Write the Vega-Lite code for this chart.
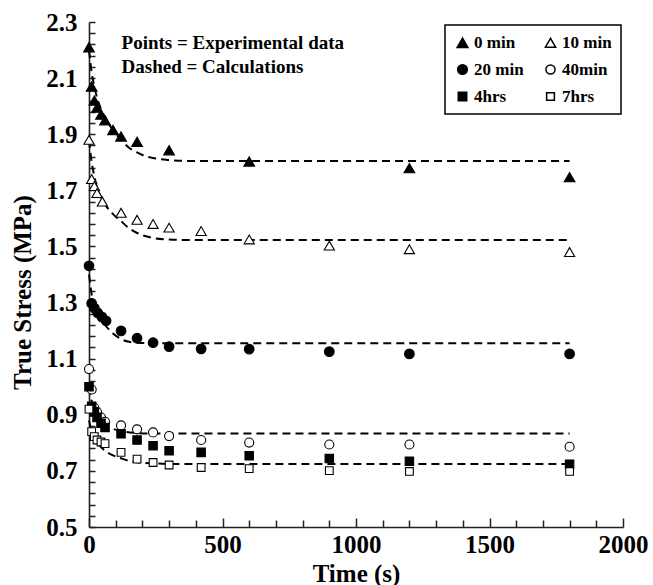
{
  "$schema": "https://vega.github.io/schema/vega-lite/v6.json",
  "width": 534,
  "height": 505,
  "autosize": {"type": "none"},
  "padding": {"left": 89, "top": 22, "right": 30, "bottom": 58},
  "background": "white",
  "config": {
    "view": {"stroke": null},
    "axis": {
      "domainColor": "#222222", "domainWidth": 1.6,
      "ticks": true, "tickColor": "#222222", "tickWidth": 1.5,
      "labelFont": "Liberation Serif", "labelFontWeight": "bold", "labelFontSize": 25, "labelColor": "black", "labelOverlap": false,
      "titleFont": "Liberation Serif", "titleFontWeight": "bold", "titleFontSize": 25, "titleColor": "black",
      "grid": false
    },
    "legend": {
      "orient": "none", "legendX": 356, "legendY": 3, "columns": 2, "direction": "horizontal",
      "strokeColor": "black", "strokeWidth": 1.5, "padding": 9,
      "labelFont": "Liberation Serif", "labelFontWeight": "bold", "labelFontSize": 17, "labelColor": "black",
      "rowPadding": 9, "columnPadding": 18, "labelOffset": 3
    }
  },
  "datasets": {
    "exp": [
      {"series": "0 min", "t": 0, "stress": 2.21},
      {"series": "0 min", "t": 10, "stress": 2.07},
      {"series": "0 min", "t": 20, "stress": 2.02},
      {"series": "0 min", "t": 30, "stress": 1.995},
      {"series": "0 min", "t": 45, "stress": 1.97},
      {"series": "0 min", "t": 60, "stress": 1.95},
      {"series": "0 min", "t": 90, "stress": 1.915},
      {"series": "0 min", "t": 120, "stress": 1.892},
      {"series": "0 min", "t": 180, "stress": 1.873},
      {"series": "0 min", "t": 300, "stress": 1.843},
      {"series": "0 min", "t": 600, "stress": 1.803},
      {"series": "0 min", "t": 1200, "stress": 1.779},
      {"series": "0 min", "t": 1800, "stress": 1.747},
      {"series": "10 min", "t": 0, "stress": 1.88},
      {"series": "10 min", "t": 10, "stress": 1.74},
      {"series": "10 min", "t": 20, "stress": 1.715},
      {"series": "10 min", "t": 30, "stress": 1.69},
      {"series": "10 min", "t": 50, "stress": 1.66},
      {"series": "10 min", "t": 120, "stress": 1.62},
      {"series": "10 min", "t": 180, "stress": 1.595},
      {"series": "10 min", "t": 240, "stress": 1.58},
      {"series": "10 min", "t": 300, "stress": 1.567},
      {"series": "10 min", "t": 420, "stress": 1.555},
      {"series": "10 min", "t": 600, "stress": 1.525},
      {"series": "10 min", "t": 900, "stress": 1.503},
      {"series": "10 min", "t": 1200, "stress": 1.49},
      {"series": "10 min", "t": 1800, "stress": 1.48},
      {"series": "20 min", "t": 0, "stress": 1.431},
      {"series": "20 min", "t": 10, "stress": 1.297},
      {"series": "20 min", "t": 20, "stress": 1.28},
      {"series": "20 min", "t": 33, "stress": 1.263},
      {"series": "20 min", "t": 48, "stress": 1.249},
      {"series": "20 min", "t": 64, "stress": 1.235},
      {"series": "20 min", "t": 120, "stress": 1.199},
      {"series": "20 min", "t": 180, "stress": 1.173},
      {"series": "20 min", "t": 240, "stress": 1.157},
      {"series": "20 min", "t": 300, "stress": 1.143},
      {"series": "20 min", "t": 420, "stress": 1.135},
      {"series": "20 min", "t": 600, "stress": 1.134},
      {"series": "20 min", "t": 900, "stress": 1.125},
      {"series": "20 min", "t": 1200, "stress": 1.117},
      {"series": "20 min", "t": 1800, "stress": 1.117},
      {"series": "40min", "t": 0, "stress": 1.063},
      {"series": "40min", "t": 10, "stress": 0.99},
      {"series": "40min", "t": 20, "stress": 0.925},
      {"series": "40min", "t": 30, "stress": 0.91},
      {"series": "40min", "t": 45, "stress": 0.89},
      {"series": "40min", "t": 60, "stress": 0.875},
      {"series": "40min", "t": 120, "stress": 0.862},
      {"series": "40min", "t": 180, "stress": 0.848},
      {"series": "40min", "t": 240, "stress": 0.837},
      {"series": "40min", "t": 300, "stress": 0.824},
      {"series": "40min", "t": 420, "stress": 0.81},
      {"series": "40min", "t": 600, "stress": 0.801},
      {"series": "40min", "t": 900, "stress": 0.794},
      {"series": "40min", "t": 1200, "stress": 0.794},
      {"series": "40min", "t": 1800, "stress": 0.786},
      {"series": "4hrs", "t": 0, "stress": 1.0},
      {"series": "4hrs", "t": 10, "stress": 0.93},
      {"series": "4hrs", "t": 20, "stress": 0.91},
      {"series": "4hrs", "t": 30, "stress": 0.89},
      {"series": "4hrs", "t": 45, "stress": 0.87},
      {"series": "4hrs", "t": 60, "stress": 0.855},
      {"series": "4hrs", "t": 120, "stress": 0.832},
      {"series": "4hrs", "t": 180, "stress": 0.81},
      {"series": "4hrs", "t": 240, "stress": 0.79},
      {"series": "4hrs", "t": 300, "stress": 0.772},
      {"series": "4hrs", "t": 420, "stress": 0.766},
      {"series": "4hrs", "t": 600, "stress": 0.754},
      {"series": "4hrs", "t": 900, "stress": 0.744},
      {"series": "4hrs", "t": 1200, "stress": 0.734},
      {"series": "4hrs", "t": 1800, "stress": 0.724},
      {"series": "7hrs", "t": 0, "stress": 0.92},
      {"series": "7hrs", "t": 10, "stress": 0.84},
      {"series": "7hrs", "t": 20, "stress": 0.822},
      {"series": "7hrs", "t": 30, "stress": 0.81},
      {"series": "7hrs", "t": 45, "stress": 0.803},
      {"series": "7hrs", "t": 60, "stress": 0.797},
      {"series": "7hrs", "t": 120, "stress": 0.766},
      {"series": "7hrs", "t": 180, "stress": 0.742},
      {"series": "7hrs", "t": 240, "stress": 0.73},
      {"series": "7hrs", "t": 300, "stress": 0.721},
      {"series": "7hrs", "t": 420, "stress": 0.712},
      {"series": "7hrs", "t": 600, "stress": 0.708},
      {"series": "7hrs", "t": 900, "stress": 0.701},
      {"series": "7hrs", "t": 1200, "stress": 0.698},
      {"series": "7hrs", "t": 1800, "stress": 0.698}
    ],
    "calc": [
      {"curve": "0 min", "t": 0, "stress": 2.2},
      {"curve": "0 min", "t": 10, "stress": 2.12},
      {"curve": "0 min", "t": 20, "stress": 2.07},
      {"curve": "0 min", "t": 30, "stress": 2.03},
      {"curve": "0 min", "t": 45, "stress": 1.99},
      {"curve": "0 min", "t": 60, "stress": 1.96},
      {"curve": "0 min", "t": 90, "stress": 1.915},
      {"curve": "0 min", "t": 120, "stress": 1.88},
      {"curve": "0 min", "t": 150, "stress": 1.852},
      {"curve": "0 min", "t": 180, "stress": 1.835},
      {"curve": "0 min", "t": 210, "stress": 1.822},
      {"curve": "0 min", "t": 240, "stress": 1.815},
      {"curve": "0 min", "t": 300, "stress": 1.808},
      {"curve": "0 min", "t": 360, "stress": 1.805},
      {"curve": "0 min", "t": 1800, "stress": 1.805},
      {"curve": "10 min", "t": 0, "stress": 1.88},
      {"curve": "10 min", "t": 10, "stress": 1.8},
      {"curve": "10 min", "t": 20, "stress": 1.75},
      {"curve": "10 min", "t": 30, "stress": 1.71},
      {"curve": "10 min", "t": 45, "stress": 1.675},
      {"curve": "10 min", "t": 60, "stress": 1.65},
      {"curve": "10 min", "t": 90, "stress": 1.615},
      {"curve": "10 min", "t": 120, "stress": 1.59},
      {"curve": "10 min", "t": 150, "stress": 1.565},
      {"curve": "10 min", "t": 180, "stress": 1.548},
      {"curve": "10 min", "t": 210, "stress": 1.537},
      {"curve": "10 min", "t": 240, "stress": 1.53},
      {"curve": "10 min", "t": 300, "stress": 1.525},
      {"curve": "10 min", "t": 360, "stress": 1.523},
      {"curve": "10 min", "t": 1800, "stress": 1.523},
      {"curve": "20 min", "t": 0, "stress": 1.4},
      {"curve": "20 min", "t": 10, "stress": 1.33},
      {"curve": "20 min", "t": 20, "stress": 1.29},
      {"curve": "20 min", "t": 30, "stress": 1.265},
      {"curve": "20 min", "t": 45, "stress": 1.24},
      {"curve": "20 min", "t": 60, "stress": 1.22},
      {"curve": "20 min", "t": 90, "stress": 1.19},
      {"curve": "20 min", "t": 120, "stress": 1.17},
      {"curve": "20 min", "t": 150, "stress": 1.16},
      {"curve": "20 min", "t": 180, "stress": 1.157},
      {"curve": "20 min", "t": 240, "stress": 1.155},
      {"curve": "20 min", "t": 1800, "stress": 1.155},
      {"curve": "40min", "t": 0, "stress": 1.0},
      {"curve": "40min", "t": 10, "stress": 0.95},
      {"curve": "40min", "t": 20, "stress": 0.92},
      {"curve": "40min", "t": 30, "stress": 0.9},
      {"curve": "40min", "t": 45, "stress": 0.88},
      {"curve": "40min", "t": 60, "stress": 0.865},
      {"curve": "40min", "t": 90, "stress": 0.85},
      {"curve": "40min", "t": 120, "stress": 0.842},
      {"curve": "40min", "t": 180, "stress": 0.835},
      {"curve": "40min", "t": 240, "stress": 0.833},
      {"curve": "40min", "t": 1800, "stress": 0.833},
      {"curve": "hrs", "t": 0, "stress": 0.88},
      {"curve": "hrs", "t": 10, "stress": 0.84},
      {"curve": "hrs", "t": 20, "stress": 0.815},
      {"curve": "hrs", "t": 30, "stress": 0.8},
      {"curve": "hrs", "t": 45, "stress": 0.785},
      {"curve": "hrs", "t": 60, "stress": 0.772},
      {"curve": "hrs", "t": 90, "stress": 0.755},
      {"curve": "hrs", "t": 120, "stress": 0.745},
      {"curve": "hrs", "t": 150, "stress": 0.736},
      {"curve": "hrs", "t": 180, "stress": 0.731},
      {"curve": "hrs", "t": 240, "stress": 0.727},
      {"curve": "hrs", "t": 300, "stress": 0.725},
      {"curve": "hrs", "t": 1800, "stress": 0.725}
    ],
    "notes": [
      {"t": 122, "stress": 2.225, "label": "Points = Experimental data"},
      {"t": 122, "stress": 2.14, "label": "Dashed = Calculations"}
    ]
  },
  "layer": [
    {
      "data": {"name": "calc"},
      "mark": {"type": "line", "color": "black", "strokeWidth": 2, "strokeDash": [8, 5], "interpolate": "monotone"},
      "encoding": {
        "x": {"field": "t", "type": "quantitative",
          "scale": {"domain": [0, 2000], "nice": false},
          "axis": {
            "ticks": true,
            "tickSize": {"condition": {"test": "datum.value % 500 == 0", "value": -9}, "value": -7},
            "tickCount": 200,
            "labelOverlap": false, "labelBound": false, "labelFlush": false,
            "values": [0,100,200,300,400,500,600,700,800,900,1000,1100,1200,1300,1400,1500,1600,1700,1800,1900,2000],
            "labelExpr": "datum.value % 500 == 0 ? format(datum.value, 'd') : ''",
            "labelPadding": 14,
            "title": "Time (s)", "titleY": 46, "titleBaseline": "middle"
          }},
        "y": {"field": "stress", "type": "quantitative",
          "scale": {"domain": [0.5, 2.3], "nice": false, "zero": false},
          "axis": {
            "ticks": true,
            "tickSize": -6,
            "tickCount": 200,
            "labelOverlap": false, "labelBound": false, "labelFlush": false,
            "values": [0.5,0.54,0.58,0.62,0.66,0.7,0.74,0.78,0.82,0.86,0.9,0.94,0.98,1.02,1.06,1.1,1.14,1.18,1.22,1.26,1.3,1.34,1.38,1.42,1.46,1.5,1.54,1.58,1.62,1.66,1.7,1.74,1.78,1.82,1.86,1.9,1.94,1.98,2.02,2.06,2.1,2.14,2.18,2.22,2.26,2.3],
            "labelExpr": "abs((datum.value * 5) % 1 - 0.5) < 0.01 ? format(datum.value, '.1f') : ''",
            "labelPadding": 18,
            "title": "True Stress (MPa)", "titleX": -67, "titleY": 270, "titleAngle": -90, "titleBaseline": "middle", "titleAlign": "center"
          }},
        "detail": {"field": "curve"}
      }
    },
    {
      "data": {"name": "exp"},
      "mark": {"type": "point", "filled": false, "stroke": "black", "strokeWidth": 1.1, "opacity": 1},
      "encoding": {
        "x": {"field": "t", "type": "quantitative"},
        "y": {"field": "stress", "type": "quantitative"},
        "shape": {"field": "series", "type": "nominal",
          "scale": {"domain": ["0 min","10 min","20 min","40min","4hrs","7hrs"], "range": ["triangle-up","triangle-up","circle","circle","square","square"]},
          "legend": {"title": null, "encode": {"symbols": {"update": {"stroke": {"value": "black"}, "strokeWidth": {"value": 1}, "size": {"value": 75}}}}}},
        "fill": {"field": "series", "type": "nominal",
          "scale": {"domain": ["0 min","10 min","20 min","40min","4hrs","7hrs"], "range": ["black","white","black","white","black","white"]},
          "legend": {"title": null}},
        "size": {"field": "series", "type": "nominal",
          "scale": {"domain": ["0 min","10 min","20 min","40min","4hrs","7hrs"], "range": [115, 60, 110, 85, 105, 105]},
          "legend": {"title": null}}
      }
    },
    {
      "data": {"name": "notes"},
      "mark": {"type": "text", "align": "left", "baseline": "middle", "font": "Liberation Serif", "fontWeight": "bold", "fontSize": 19, "color": "black"},
      "encoding": {
        "x": {"field": "t", "type": "quantitative"},
        "y": {"field": "stress", "type": "quantitative"},
        "text": {"field": "label"}
      }
    }
  ]
}
